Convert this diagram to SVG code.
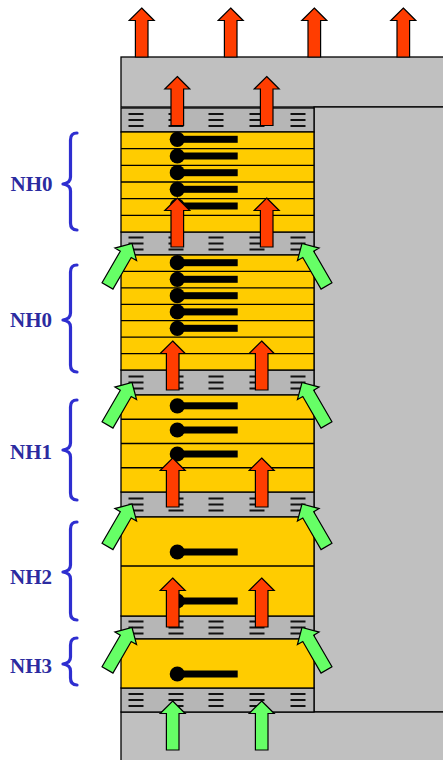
<svg xmlns="http://www.w3.org/2000/svg" xmlns:xlink="http://www.w3.org/1999/xlink" width="443" height="760" viewBox="0 0 443 760">
<style>
.bg{fill:#c0c0c0;stroke:#000;stroke-width:1.3}
.band{fill:#b6b6b6;stroke:#000;stroke-width:1.3}
.blk{fill:#ffcc00;stroke:#000;stroke-width:1.3}
.lay{stroke:#000;stroke-width:1.3}
.mk{stroke:#111;stroke-width:1.8}
.mol{fill:#000}
.red{fill:#ff3d00;stroke:#000;stroke-width:1.2;stroke-linejoin:miter}
.grn{fill:#66ff66;stroke:#000;stroke-width:1.2}
.brace{fill:none;stroke:#2e2ed0;stroke-width:3.2;stroke-linecap:round;stroke-linejoin:round}
.lbl{font-family:"Liberation Serif","Times New Roman",serif;font-weight:bold;font-size:21px;fill:#2b2ba0}
</style>
<defs>
<path id="arr" d="M0,0 L12.5,12.5 L6.3,12.5 L6.3,49 L-6.3,49 L-6.3,12.5 L-12.5,12.5 Z"/>
<g id="marks">
<path class="mk" d="M128.5,-6h15M128.5,0h15M128.5,6h15 M168.5,-6h15M168.5,0h15M168.5,6h15 M208.5,-6h15M208.5,0h15M208.5,6h15 M249.5,-6h15M249.5,0h15M249.5,6h15 M290.5,-6h15M290.5,0h15M290.5,6h15"/>
</g>
<g id="mol"><circle cx="177.3" cy="0" r="7.6"/><rect x="177" y="-3.5" width="60.7" height="7"/></g>
</defs>

<g id="substrate">
<rect class="bg" x="121" y="57" width="330" height="50"/>
<rect class="bg" x="314" y="107" width="137" height="605"/>
<rect class="bg" x="121" y="712" width="330" height="60"/>
</g>

<g id="bands">
<rect class="band" x="121" y="108" width="193" height="24"/>
<use href="#marks" transform="translate(0,120)"/>
<rect class="band" x="121" y="232" width="193" height="23"/>
<use href="#marks" transform="translate(0,243.5)"/>
<rect class="band" x="121" y="370" width="193" height="25"/>
<use href="#marks" transform="translate(0,382.5)"/>
<rect class="band" x="121" y="492" width="193" height="25"/>
<use href="#marks" transform="translate(0,504.5)"/>
<rect class="band" x="121" y="616" width="193" height="23"/>
<use href="#marks" transform="translate(0,627.5)"/>
<rect class="band" x="121" y="688" width="193" height="24"/>
<use href="#marks" transform="translate(0,700)"/>
</g>

<g id="block-nh0-a">
<rect class="blk" x="121" y="132" width="193" height="100"/>
<path class="lay" d="M121,148.67H314M121,165.33H314M121,182H314M121,198.67H314M121,215.33H314"/>
<g class="mol">
<use href="#mol" transform="translate(0,139.3)"/>
<use href="#mol" transform="translate(0,156)"/>
<use href="#mol" transform="translate(0,172.7)"/>
<use href="#mol" transform="translate(0,189.3)"/>
<use href="#mol" transform="translate(0,206)"/>
</g>
</g>

<g id="block-nh0-b">
<rect class="blk" x="121" y="255" width="193" height="115"/>
<path class="lay" d="M121,271.4H314M121,287.9H314M121,304.3H314M121,320.7H314M121,337.1H314M121,353.6H314"/>
<g class="mol">
<use href="#mol" transform="translate(0,262.7)"/>
<use href="#mol" transform="translate(0,279.3)"/>
<use href="#mol" transform="translate(0,295.7)"/>
<use href="#mol" transform="translate(0,311.9)"/>
<use href="#mol" transform="translate(0,328.3)"/>
</g>
</g>

<g id="block-nh1">
<rect class="blk" x="121" y="395" width="193" height="97"/>
<path class="lay" d="M121,419.25H314M121,443.5H314M121,467.75H314"/>
<g class="mol">
<use href="#mol" transform="translate(0,405.8)"/>
<use href="#mol" transform="translate(0,430)"/>
<use href="#mol" transform="translate(0,454)"/>
</g>
</g>

<g id="block-nh2">
<rect class="blk" x="121" y="517" width="193" height="99"/>
<path class="lay" d="M121,566H314"/>
<g class="mol">
<use href="#mol" transform="translate(0,552)"/>
<use href="#mol" transform="translate(0,601)"/>
</g>
</g>

<g id="block-nh3">
<rect class="blk" x="121" y="639" width="193" height="49"/>
<g class="mol">
<use href="#mol" transform="translate(0,674)"/>
</g>
</g>

<g id="arrows">
<g class="red">
<use href="#arr" transform="translate(141.7,8)"/>
<use href="#arr" transform="translate(230.7,8)"/>
<use href="#arr" transform="translate(314.3,8)"/>
<use href="#arr" transform="translate(403.3,8)"/>
<use href="#arr" transform="translate(177.3,76.5)"/>
<use href="#arr" transform="translate(266.7,76.5)"/>
<use href="#arr" transform="translate(177.3,198)"/>
<use href="#arr" transform="translate(266.7,198)"/>
<use href="#arr" transform="translate(172.7,341)"/>
<use href="#arr" transform="translate(261.7,341)"/>
<use href="#arr" transform="translate(172.7,458)"/>
<use href="#arr" transform="translate(261.7,458)"/>
<use href="#arr" transform="translate(172.7,578)"/>
<use href="#arr" transform="translate(261.7,578)"/>
</g>
<g class="grn">
<use href="#arr" transform="translate(172.7,701)"/>
<use href="#arr" transform="translate(261.7,701)"/>
<use href="#arr" transform="translate(132,243.5) rotate(30)"/>
<use href="#arr" transform="translate(302,243.5) rotate(-30)"/>
<use href="#arr" transform="translate(132,382.5) rotate(30)"/>
<use href="#arr" transform="translate(302,382.5) rotate(-30)"/>
<use href="#arr" transform="translate(132,504) rotate(30)"/>
<use href="#arr" transform="translate(302,504) rotate(-30)"/>
<use href="#arr" transform="translate(132,627.5) rotate(30)"/>
<use href="#arr" transform="translate(302,627.5) rotate(-30)"/>
</g>
</g>

<g id="label-nh0-a">
<path class="brace" d="M77,133 Q70.5,133 70.5,140 V177 Q70.5,183 63,184 Q70.5,185 70.5,191 V223 Q70.5,230 77,230"/>
<text class="lbl" x="10.5" y="191">NH0</text>
</g>
<g id="label-nh0-b">
<path class="brace" d="M77,265 Q70.5,265 70.5,272 V313 Q70.5,319 63,320 Q70.5,321 70.5,327 V365 Q70.5,372 77,372"/>
<text class="lbl" x="10" y="327">NH0</text>
</g>
<g id="label-nh1">
<path class="brace" d="M77,400 Q70.5,400 70.5,407 V443 Q70.5,449 63,450 Q70.5,451 70.5,457 V493 Q70.5,500 77,500"/>
<text class="lbl" x="10" y="459">NH1</text>
</g>
<g id="label-nh2">
<path class="brace" d="M77,522 Q70.5,522 70.5,529 V565 Q70.5,571 63,572 Q70.5,573 70.5,579 V613 Q70.5,620 77,620"/>
<text class="lbl" x="10" y="584">NH2</text>
</g>
<g id="label-nh3">
<path class="brace" d="M77,638 Q70.5,638 70.5,645 V657 Q70.5,663 63,664 Q70.5,665 70.5,671 V678 Q70.5,685 77,685"/>
<text class="lbl" x="10" y="673">NH3</text>
</g>
</svg>
